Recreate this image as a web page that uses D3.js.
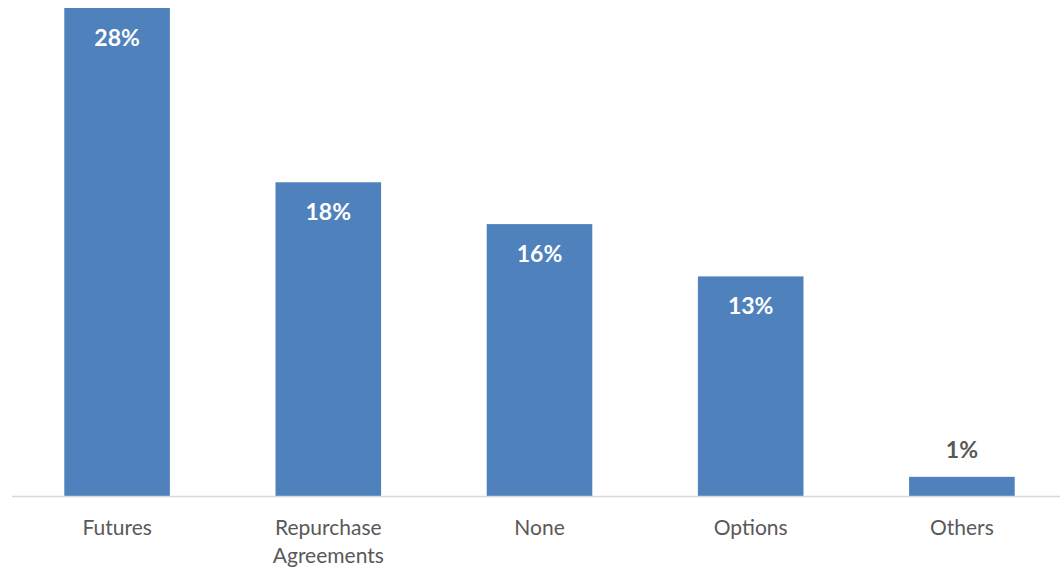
<!DOCTYPE html>
<html>
<head>
<meta charset="utf-8">
<script src="https://cdn.jsdelivr.net/npm/d3@7"></script>
<style>
  html, body { margin: 0; padding: 0; background: #fff; }
  svg { display: block; }
  text { font-family: Lato, "Open Sans", sans-serif; }
</style>
</head>
<body>
<svg id="chart" width="1060" height="570"></svg>
<script>
// Share of respondents by instrument type
const categories = ["Futures", "Repurchase Agreements", "None", "Options", "Others"];
const shares = [0.28, 0.18, 0.156, 0.126, 0.011];

const width = 1060, height = 570;
const baseY = 496, topY = 8;

const svg = d3.select("#chart");

const x = d3.scaleBand()
  .domain(categories)
  .range([11.5, 1067.5])
  .paddingInner(0.5)
  .paddingOuter(0.25);

const y = d3.scaleLinear()
  .domain([0, 0.28])
  .range([baseY, topY]);

const fmt = d3.format(".0%");
const data = categories.map((c, i) => ({ cat: c, v: shares[i] }));

// bars
svg.append("g")
  .selectAll("rect")
  .data(data)
  .join("rect")
  .attr("x", d => x(d.cat))
  .attr("y", d => y(d.v))
  .attr("width", x.bandwidth())
  .attr("height", d => y(0) - y(d.v))
  .attr("fill", "#4F81BD");

// category axis
const axis = svg.append("g")
  .attr("transform", `translate(0,${baseY})`)
  .call(d3.axisBottom(x).tickSize(0).tickPadding(0));
axis.select(".domain").attr("stroke", "#D9D9D9").attr("stroke-width", 1.3);
axis.selectAll(".tick text").remove();

// category labels, wrapped onto two lines where needed
const labelLines = {
  "Repurchase Agreements": ["Repurchase", "Agreements"]
};
axis.selectAll(".tick").each(function(d) {
  const lines = labelLines[d] || [d];
  const t = d3.select(this).append("text")
    .attr("text-anchor", "middle")
    .attr("fill", "#595959")
    .attr("font-size", "21px");
  lines.forEach((ln, i) => {
    t.append("tspan").attr("x", 0).attr("y", 39 + i * 28).text(ln);
  });
});

// value labels: inside the bar top, or above short bars
svg.append("g")
  .selectAll("text")
  .data(data)
  .join("text")
  .attr("x", d => x(d.cat) + x.bandwidth() / 2)
  .attr("y", d => {
    const inside = (y(0) - y(d.v)) > 60;
    return inside ? y(d.v) + 38 : y(d.v) - 19;
  })
  .attr("text-anchor", "middle")
  .attr("font-weight", "bold")
  .attr("font-size", "23px")
  .attr("fill", d => (y(0) - y(d.v)) > 60 ? "#FFFFFF" : "#595959")
  .text(d => fmt(d.v));
</script>
</body>
</html>
